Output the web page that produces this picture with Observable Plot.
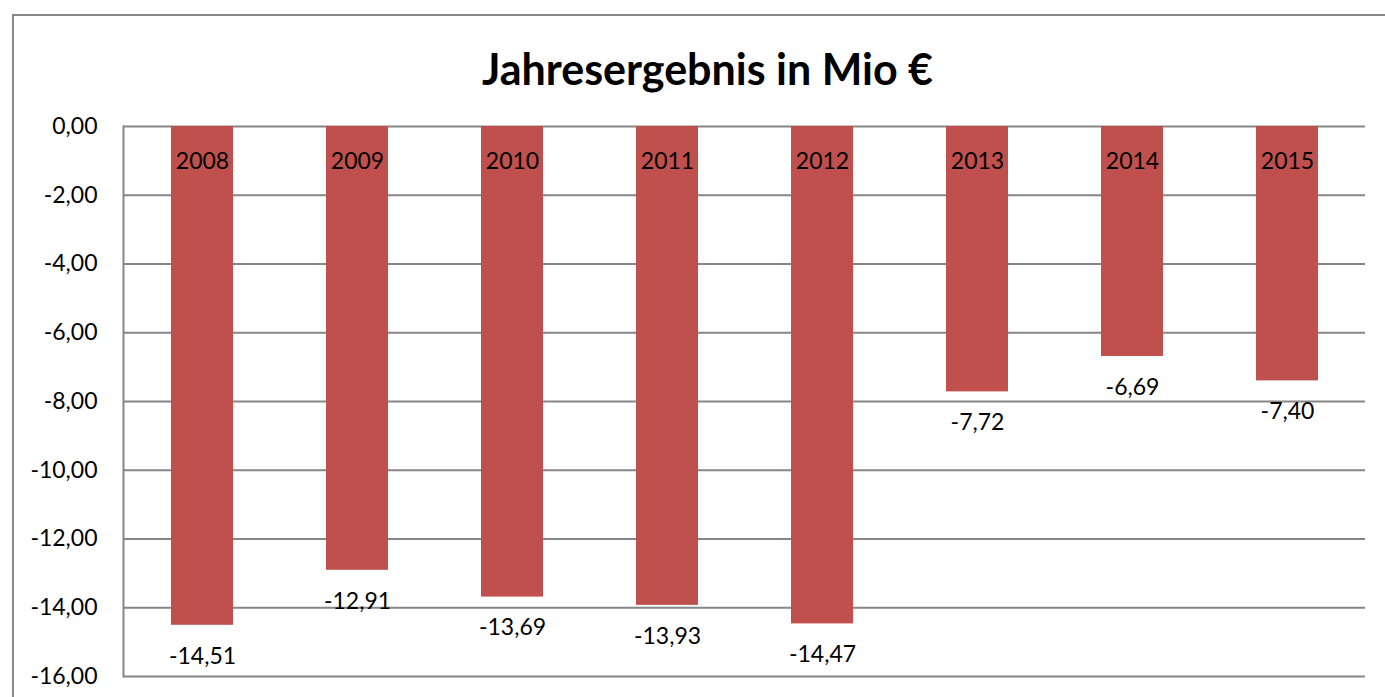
<!DOCTYPE html>
<html><head><meta charset="utf-8">
<script src="https://cdn.jsdelivr.net/npm/d3@7"></script>
<script src="https://cdn.jsdelivr.net/npm/@observablehq/plot@0.6"></script>
<style>
html,body{margin:0;padding:0;background:#fff;}
#wrap{position:relative;width:1385px;height:697px;overflow:hidden;font-family:Lato,"Open Sans",sans-serif;}
#frame{position:absolute;left:12px;top:14px;width:1500px;height:800px;border:2px solid #888;box-sizing:border-box;}
#title{position:absolute;left:0;top:0;width:1385px;height:100px;}
#title h1{margin:0;position:absolute;left:14px;right:-16px;top:47px;text-align:center;font-size:43px;font-weight:700;color:#000;line-height:1;}
#chart{position:absolute;left:0;top:100px;}
</style></head>
<body><div id="wrap"><div id="frame"></div><div id="title"><h1>Jahresergebnis in Mio €</h1></div><div id="chart"></div></div>
<script>
const years = ["2008","2009","2010","2011","2012","2013","2014","2015"];
const values = [-14.51,-12.91,-13.69,-13.93,-14.47,-7.72,-6.69,-7.40];
const yTicks = [0,-2,-4,-6,-8,-10,-12,-14,-16];

const data = years.map((y,i)=>({year:y, value:values[i]}));
const fmt = v => v.toFixed(2).replace(".", ",");

const chart = Plot.plot({
  width: 1385, height: 597,
  marginLeft: 123, marginRight: 20, marginTop: 26, marginBottom: 21,
  style: {fontFamily: "Lato, 'Open Sans', sans-serif", fontSize: "23px", color: "#000", background: "transparent"},
  x: {domain: years, paddingInner: 0.6, paddingOuter: 0.3, axis: null},
  y: {domain: [-16, 0], ticks: yTicks, tickFormat: fmt, label: null},
  marks: [
    Plot.ruleY(yTicks, {stroke: "#868686", strokeWidth: 2}),
    Plot.frame({anchor: "left", stroke: "#868686", strokeWidth: 2}),
    Plot.axisY({ticks: yTicks, tickFormat: fmt, tickSize: 0, tickPadding: 26, fontSize: 23, label: null}),
    Plot.barY(data, {x: "year", y: "value", fill: "#C0504D"}),
    Plot.text(data, {x: "year", y: () => 0, text: "year", dy: 35, fontSize: 23, fill: "#000"}),
    Plot.text(data, {x: "year", y: "value", text: d => fmt(d.value), dy: 31, fontSize: 23, fill: "#000"})
  ]
});
document.getElementById("chart").appendChild(chart);
</script></body></html>
